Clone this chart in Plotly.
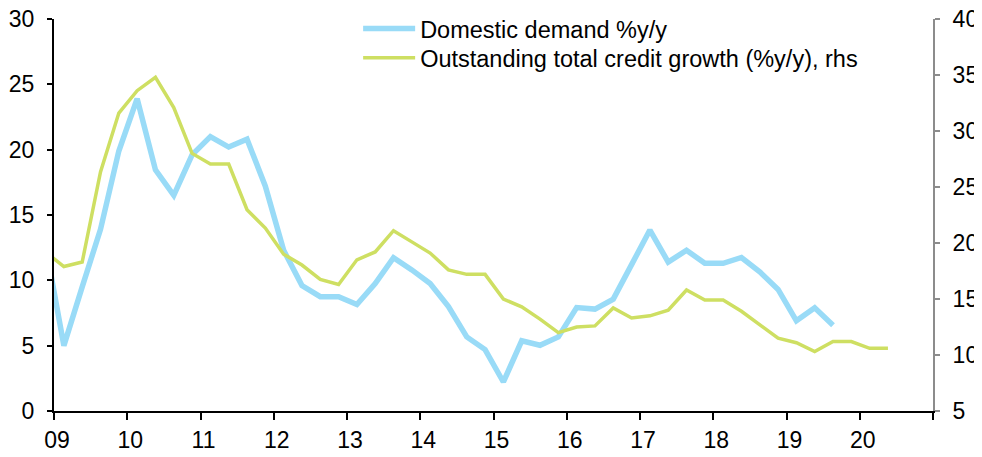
import plotly.graph_objects as go

# Quarterly observations, Q4 2008 onward (x = year + quarter offset)
start_year = 2008
start_quarter = 4

domestic_demand = [12.7, 5.0, 9.5, 13.9, 19.9, 23.9, 18.45, 16.5, 19.6, 21.0, 20.2, 20.8,
                   17.2, 12.3, 9.6, 8.75, 8.75, 8.15, 9.76, 11.73, 10.8, 9.76, 8.0, 5.67,
                   4.7, 2.22, 5.37, 5.03, 5.67, 7.92, 7.8, 8.56, 11.2, 13.85, 11.4, 12.3,
                   11.3, 11.3, 11.75, 10.65, 9.3, 6.9, 7.9, 6.57]

credit_growth = [19.2, 17.9, 18.3, 26.35, 31.6, 33.6, 34.8, 32.1, 28.0, 27.05, 27.05, 22.97,
                 21.33, 19.0, 18.03, 16.75, 16.3, 18.5, 19.2, 21.1, 20.1, 19.1, 17.6, 17.2,
                 17.2, 15.0, 14.3, 13.2, 12.0, 12.5, 12.6, 14.2, 13.3, 13.5, 14.0, 15.8,
                 14.9, 14.9, 13.9, 12.7, 11.5, 11.1, 10.3, 11.2, 11.2, 10.6, 10.6]

year_ticks = list(range(2009, 2022))
year_labels = ["09", "10", "11", "12", "13", "14", "15", "16", "17", "18", "19", "20", ""]

def quarter_x(n):
    out = []
    for i in range(n):
        q = start_quarter - 1 + i
        out.append(start_year + q // 4 + (q % 4) * 0.25 + 0.135)
    return out

font_family = "Liberation Sans, Arial, sans-serif"
fs = 23

fig = go.Figure()
fig.add_trace(go.Scatter(
    x=quarter_x(len(domestic_demand)), y=domestic_demand, mode="lines",
    name="Domestic demand %y/y", legend="legend",
    line=dict(color="#99DBF7", width=5.5), yaxis="y"))
fig.add_trace(go.Scatter(
    x=quarter_x(len(credit_growth)), y=credit_growth, mode="lines",
    name="Outstanding total credit growth (%y/y), rhs", legend="legend2",
    line=dict(color="#CEDF62", width=3.5), yaxis="y2"))

legend_style = dict(xanchor="left", yanchor="top", bgcolor="rgba(0,0,0,0)",
                    font=dict(size=23.5), itemwidth=52)

fig.update_layout(
    width=974, height=449,
    margin=dict(l=46, r=49, t=11, b=46, autoexpand=False),
    paper_bgcolor="white", plot_bgcolor="white",
    font=dict(family=font_family, size=fs, color="black"),
    showlegend=True,
    legend=dict(x=0.346, y=1.031, **legend_style),
    legend2=dict(x=0.346, y=0.957, **legend_style),
    xaxis=dict(range=[2009, 2021], tickvals=year_ticks, ticktext=year_labels,
               automargin=False, ticklabeloverflow="allow",
               showgrid=False, zeroline=False, showline=True, linecolor="black",
               linewidth=2, ticks="outside", ticklen=7, tickwidth=2, tickcolor="black",
               ticklabelshift=3, tickfont=dict(size=fs)),
    yaxis=dict(range=[0, 30], tickvals=[0, 5, 10, 15, 20, 25, 30],
               automargin=False, ticklabeloverflow="allow",
               showgrid=False, zeroline=False, showline=True, linecolor="black",
               linewidth=2, ticks="outside", ticklen=5, tickwidth=1.5, tickcolor="black",
               ticklabelstandoff=8, tickfont=dict(size=fs)),
    yaxis2=dict(range=[5, 40], tickvals=[5, 10, 15, 20, 25, 30, 35, 40],
                overlaying="y", side="right", automargin=False, ticklabeloverflow="allow",
                showgrid=False, zeroline=False, showline=True, linecolor="#8C8C8C",
                linewidth=2, ticks="outside", ticklen=5, tickwidth=1.5, tickcolor="#8C8C8C",
                ticklabelstandoff=8, tickfont=dict(size=fs)),
)

fig.write_html("out.html")
